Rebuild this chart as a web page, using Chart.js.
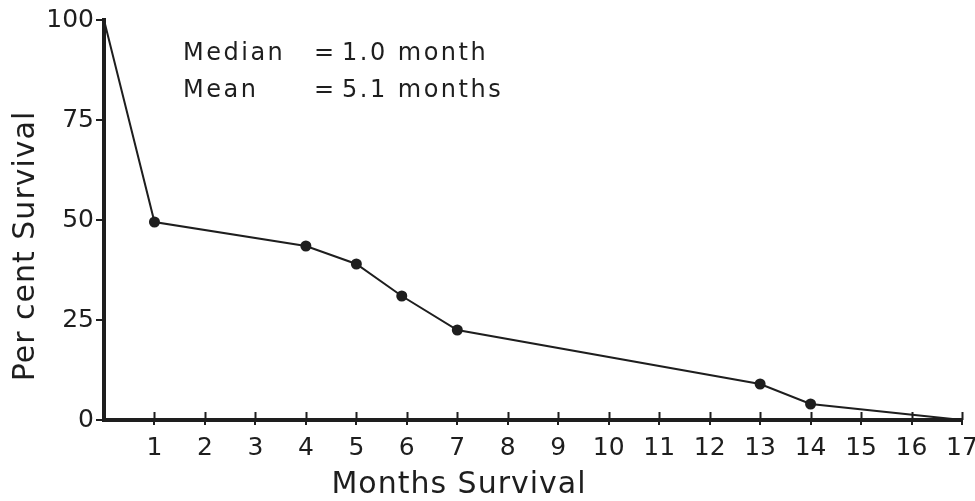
<!DOCTYPE html>
<html>
<head>
<meta charset="utf-8">
<script src="https://cdn.jsdelivr.net/npm/chart.js@4.4.1/dist/chart.umd.min.js"></script>
<style>
  html, body { margin: 0; padding: 0; background: #ffffff; }
  #wrap { width: 975px; height: 501px; }
</style>
</head>
<body>
<div id="wrap"><canvas id="c" width="975" height="501"></canvas></div>
<script>
// ---- data ----
const months   = [0, 1, 4, 5, 5.9, 7, 13, 14, 17];
const survival = [100, 49.5, 43.5, 39, 31, 22.5, 9, 4, 0];
const xTickValues = [0, 1, 2, 3, 4, 5, 6, 7, 8, 9, 10, 11, 12, 13, 14, 15, 16, 17];
const yTickValues = [0, 25, 50, 75, 100];
const statLabels = ['Median', 'Mean'];
const statValues = ['1.0 month', '5.1 months'];
const xTitle = 'Months Survival';
const yTitle = 'Per cent Survival';

// ---- styling ----
const INK = '#1e1e1e';
const FAMILY = "'DejaVu Sans', sans-serif";

const decor = {
  id: 'decor',
  afterDraw(chart) {
    const ctx = chart.ctx;
    const xs = chart.scales.x;
    const area = chart.chartArea;
    ctx.save();
    // inner half of the x tick marks (they cross the axis)
    ctx.strokeStyle = INK;
    ctx.lineWidth = 2;
    ctx.beginPath();
    xTickValues.forEach(v => {
      if (v === 0) return;
      const px = Math.round(xs.getPixelForValue(v)) + 0.5;
      ctx.moveTo(px, area.bottom);
      ctx.lineTo(px, area.bottom - 8);
    });
    ctx.stroke();

    ctx.fillStyle = INK;
    // x axis title
    ctx.font = '30px ' + FAMILY;
    ctx.letterSpacing = '1px';
    ctx.textAlign = 'center';
    ctx.textBaseline = 'alphabetic';
    ctx.fillText(xTitle, 459, 493);

    // y axis title (rotated)
    ctx.save();
    ctx.translate(34, 246);
    ctx.rotate(-Math.PI / 2);
    ctx.fillText(yTitle, 0, 0);
    ctx.restore();

    // statistics annotation
    ctx.font = '24px ' + FAMILY;
    ctx.letterSpacing = '2.5px';
    ctx.textAlign = 'left';
    const baselines = [60, 97];
    statLabels.forEach((lab, i) => {
      ctx.fillText(lab, 183, baselines[i]);
      ctx.fillText('=', 314, baselines[i]);
      ctx.fillText(statValues[i], 342, baselines[i]);
    });
    ctx.restore();
  }
};

new Chart(document.getElementById('c'), {
  type: 'scatter',
  data: {
    datasets: [{
      data: months.map((m, i) => ({ x: m, y: survival[i] })),
      showLine: true,
      borderColor: INK,
      borderWidth: 2,
      tension: 0,
      clip: false,
      pointRadius: c => (c.dataIndex === 0 || c.dataIndex === months.length - 1) ? 0 : 5.5,
      pointBackgroundColor: INK,
      pointBorderColor: INK,
      pointBorderWidth: 0
    }]
  },
  options: {
    responsive: false,
    animation: false,
    devicePixelRatio: 1,
    layout: { padding: { top: 20, right: 13, left: 0, bottom: 0 } },
    plugins: { legend: { display: false }, tooltip: { enabled: false } },
    scales: {
      x: {
        type: 'linear',
        min: 0, max: 17,
        afterBuildTicks: s => { s.ticks = xTickValues.map(v => ({ value: v })); },
        ticks: {
          autoSkip: false, maxRotation: 0, minRotation: 0,
          padding: 8, color: INK,
          font: { family: FAMILY, size: 25 },
          callback: v => (v === 0 ? '' : String(v))
        },
        grid: {
          display: true, drawOnChartArea: false, drawTicks: true,
          tickLength: 5, lineWidth: 2,
          color: c => (c.tick && c.tick.value === 0) ? 'rgba(0,0,0,0)' : INK
        },
        border: { display: true, color: INK, width: 4 },
        afterFit: s => { s.height = 81; s.paddingLeft = 0; s.paddingRight = 0; }
      },
      y: {
        type: 'linear',
        min: 0, max: 100,
        afterBuildTicks: s => { s.ticks = yTickValues.map(v => ({ value: v })); },
        ticks: {
          padding: 2, color: INK,
          font: { family: FAMILY, size: 25 },
          callback: v => String(v)
        },
        grid: {
          display: true, drawOnChartArea: false, drawTicks: true,
          tickLength: 8, lineWidth: 2, color: INK
        },
        border: { display: true, color: INK, width: 4 },
        afterFit: s => { s.width = 104; s.paddingTop = 0; s.paddingBottom = 0; }
      }
    }
  },
  plugins: [decor]
});
</script>
</body>
</html>
